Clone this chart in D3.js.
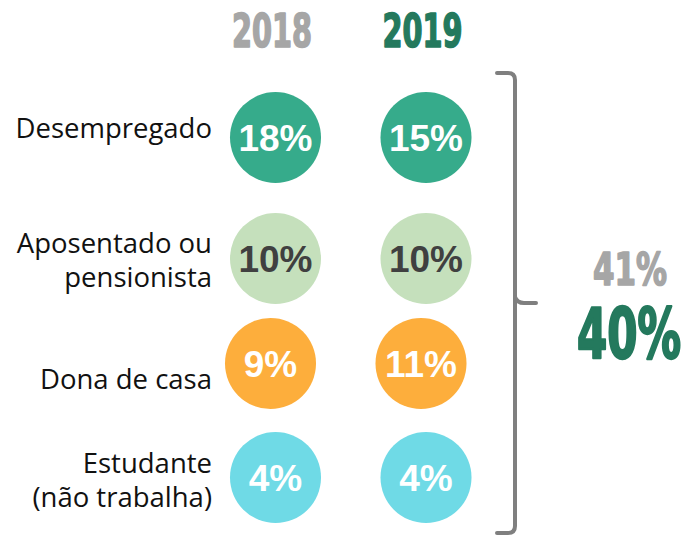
<!DOCTYPE html>
<html>
<head>
<meta charset="utf-8">
<script src="https://cdn.jsdelivr.net/npm/d3@7"></script>
<style>
  body { margin: 0; background: #fff; }
</style>
</head>
<body>
<div id="chart"></div>
<script>
const width = 687;
const height = 539;

// data
const categories = ["Desempregado", "Aposentado ou pensionista", "Dona de casa", "Estudante (não trabalha)"];
const labelLines = [["Desempregado"], ["Aposentado ou", "pensionista"], ["Dona de casa"], ["Estudante", "(não trabalha)"]];
const years = ["2018", "2019"];
const values2018 = [18, 10, 9, 4];
const values2019 = [15, 10, 11, 4];

const circleColors = ["#36ab8b", "#c5e0bc", "#fdae3c", "#6fdae6"];
const valueColors = ["#ffffff", "#404040", "#ffffff", "#ffffff"];
const yearColors = ["#a6a6a6", "#24795d"];
const condensed = "'Liberation Sans Narrow', 'DejaVu Sans Condensed', sans-serif";

const svg = d3
  .select("#chart")
  .append("svg")
  .attr("width", width)
  .attr("height", height);

// scales
const xScale = d3.scalePoint().domain(years).range([275.5, 426]);
const yScale = d3.scaleOrdinal().domain(categories).range([137.5, 258.5, 363.5, 477.5]);
const labelY = d3.scaleOrdinal().domain(categories).range([138, 253, 389, 473]);
const rowShift = d3.scaleOrdinal().domain(categories).range([0, 0, -5, 0]);
const fillScale = d3.scaleOrdinal().domain(categories).range(circleColors);
const textScale = d3.scaleOrdinal().domain(categories).range(valueColors);
const yearColor = d3.scaleOrdinal().domain(years).range(yearColors);

const cells = [];
categories.forEach((c, i) => {
  cells.push({ cat: c, year: "2018", value: values2018[i] });
  cells.push({ cat: c, year: "2019", value: values2019[i] });
});

// year headers (stroke to get the heavy condensed look)
svg
  .selectAll(".year")
  .data(years)
  .enter()
  .append("text")
  .attr("class", "year")
  .attr("x", (d) => xScale(d) - 3.5)
  .attr("y", 47)
  .attr("text-anchor", "middle")
  .attr("textLength", 80)
  .attr("lengthAdjust", "spacingAndGlyphs")
  .style("font-family", condensed)
  .style("font-weight", "bold")
  .style("font-size", "46px")
  .attr("fill", (d) => yearColor(d))
  .attr("stroke", (d) => yearColor(d))
  .attr("stroke-width", 1.6)
  .attr("stroke-linejoin", "round")
  .text((d) => d);

// row labels
const labels = svg
  .selectAll(".label")
  .data(categories)
  .enter()
  .append("text")
  .attr("class", "label")
  .attr("text-anchor", "end")
  .style("font-family", "'Open Sans', sans-serif")
  .style("font-size", "27.5px")
  .attr("fill", "#111");

labels
  .selectAll("tspan")
  .data((d, i) => labelLines[i].map((t) => ({ t, cat: d })))
  .enter()
  .append("tspan")
  .attr("x", 212)
  .attr("y", (d, j) => labelY(d.cat) + j * 34)
  .text((d) => d.t);

// circles
const circ = svg
  .selectAll(".cell")
  .data(cells)
  .enter()
  .append("g")
  .attr("class", "cell")
  .attr("transform", (d) => `translate(${xScale(d.year) + rowShift(d.cat)}, ${yScale(d.cat)})`);

circ
  .append("circle")
  .attr("r", 45.5)
  .attr("fill", (d) => fillScale(d.cat));

circ
  .append("text")
  .attr("text-anchor", "middle")
  .attr("y", 13.3)
  .style("font-family", "'Liberation Sans', Arial, sans-serif")
  .style("font-weight", "bold")
  .style("font-size", "37px")
  .attr("fill", (d) => textScale(d.cat))
  .text((d) => d.value + "%");

// bracket
const bracket = svg
  .append("g")
  .attr("fill", "none")
  .attr("stroke", "#7f7f7f")
  .attr("stroke-width", 4)
  .attr("stroke-linecap", "round");

bracket
  .append("path")
  .attr("d", "M497,73 L508,73 Q515,73 515,80 L515,526 Q515,533 508,533 L497,533");
bracket.append("path").attr("d", "M515,297 Q517,303 524,303 L536,303");

// totals
const totals = [d3.sum(values2018), d3.sum(values2019)];
svg
  .append("text")
  .attr("x", 630)
  .attr("y", 285)
  .attr("text-anchor", "middle")
  .attr("textLength", 74)
  .attr("lengthAdjust", "spacingAndGlyphs")
  .style("font-family", condensed)
  .style("font-weight", "bold")
  .style("font-size", "44px")
  .attr("fill", yearColor("2018"))
  .attr("stroke", yearColor("2018"))
  .attr("stroke-width", 1.6)
  .attr("stroke-linejoin", "round")
  .text(totals[0] + "%");

svg
  .append("text")
  .attr("x", 629)
  .attr("y", 358)
  .attr("text-anchor", "middle")
  .attr("textLength", 104)
  .attr("lengthAdjust", "spacingAndGlyphs")
  .style("font-family", condensed)
  .style("font-weight", "bold")
  .style("font-size", "69px")
  .attr("fill", yearColor("2019"))
  .attr("stroke", yearColor("2019"))
  .attr("stroke-width", 2.4)
  .attr("stroke-linejoin", "round")
  .text(totals[1] + "%");
</script>
</body>
</html>
